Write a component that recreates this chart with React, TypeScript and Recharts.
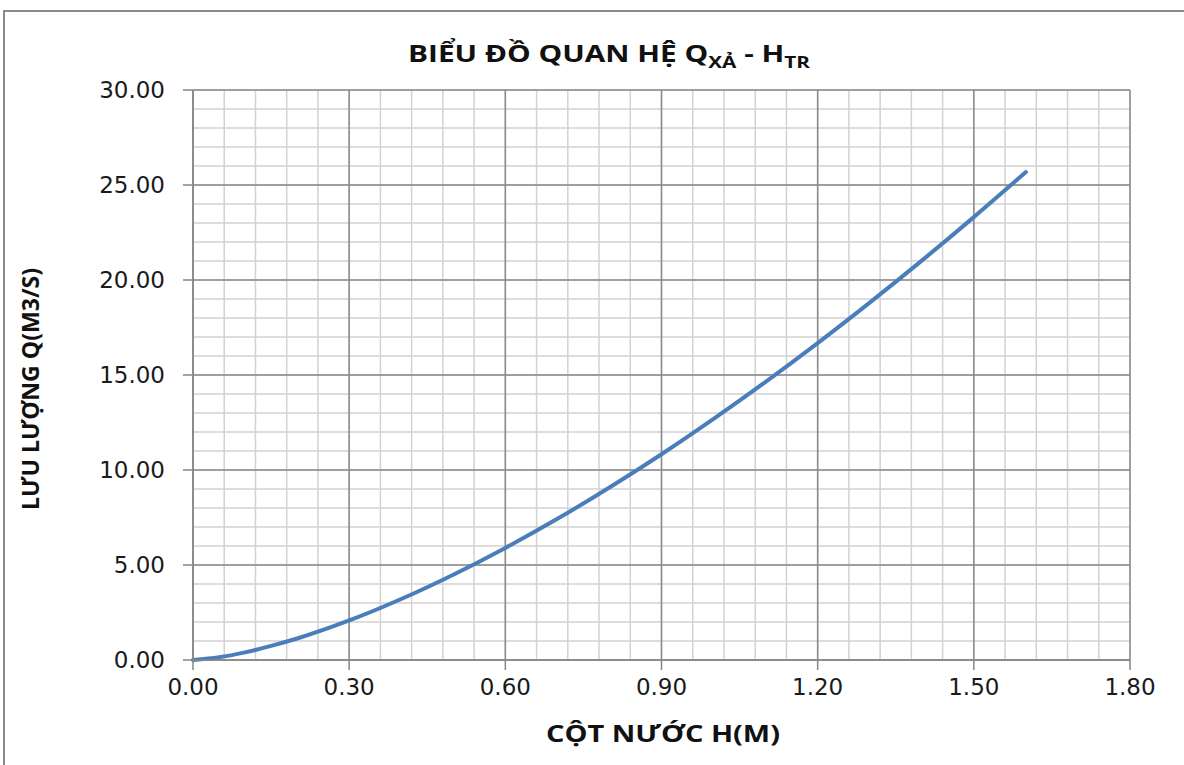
import React from 'react';
import { LineChart, Line, XAxis, YAxis, CartesianGrid } from 'recharts';

// cột nước H (m) và lưu lượng Q (m3/s)
const heads = [0, 0.05, 0.1, 0.15, 0.2, 0.3, 0.4, 0.5, 0.6, 0.7, 0.8, 0.9, 1.0, 1.1, 1.2, 1.3, 1.4, 1.5, 1.6];
const flows = [0, 0.14, 0.4, 0.74, 1.13, 2.08, 3.21, 4.49, 5.9, 7.43, 9.08, 10.83, 12.69, 14.64, 16.68, 18.81, 21.02, 23.31, 25.68];

const xTicks = [0, 0.3, 0.6, 0.9, 1.2, 1.5, 1.8];
const yTicks = [0, 5, 10, 15, 20, 25, 30];

const data = heads.map((h, i) => ({ h, q: flows[i] }));

// lưới phụ: 5 ô giữa hai vạch chính
const xMinor: number[] = [];
for (let i = 0; i <= 30; i++) xMinor.push(+(i * 0.06).toFixed(2));
const yMinor: number[] = [];
for (let i = 0; i <= 30; i++) yMinor.push(i);

const W = 1184;
const H = 765;
const tickFont = { fontFamily: 'DejaVu Sans', fontSize: 23, fill: '#1a1a1a' };
const boldFont = 'Open Sans';

const scaleOf = (axis: any) => {
  const s = axis && axis.scale;
  if (!s) return null;
  if (typeof s === 'function') return s;
  if (typeof s.map === 'function') return (v: number) => s.map(v);
  return null;
};

const minorH = ({ yAxis }: any) => {
  const s = scaleOf(yAxis);
  return s ? yMinor.map((v) => s(v)) : [];
};
const minorV = ({ xAxis }: any) => {
  const s = scaleOf(xAxis);
  return s ? xMinor.map((v) => s(v)) : [];
};

export default function App() {
  return (
    <div style={{ position: 'absolute', left: 0, top: 0, width: W, height: H, overflow: 'hidden', background: '#fff' }}>
      <div
        style={{
          position: 'absolute',
          left: 3,
          top: 10,
          width: W + 40,
          height: H + 40,
          borderTop: '2px solid #8a8a8a',
          borderLeft: '2px solid #8a8a8a',
        }}
      />
      <div style={{ position: 'absolute', left: 0, top: 0 }}>
        <LineChart width={W} height={H} data={data} margin={{ top: 90, right: 54, bottom: 65, left: 103 }}>
          <CartesianGrid
            stroke="#d2d2d2"
            strokeWidth={1.5}
            horizontalCoordinatesGenerator={minorH}
            verticalCoordinatesGenerator={minorV}
          />
          <CartesianGrid stroke="#8a8a8a" strokeWidth={1.5} />
          <XAxis
            type="number"
            dataKey="h"
            domain={[0, 1.8]}
            ticks={xTicks}
            tickFormatter={(v: number) => v.toFixed(2)}
            tick={tickFont}
            tickSize={10}
            tickMargin={9}
            axisLine={{ stroke: '#868686', strokeWidth: 1.5 }}
            tickLine={{ stroke: '#868686', strokeWidth: 1.5 }}
            height={40}
            interval={0}
          />
          <YAxis
            type="number"
            domain={[0, 30]}
            ticks={yTicks}
            tickFormatter={(v: number) => v.toFixed(2)}
            tick={tickFont}
            tickSize={10}
            tickMargin={18}
            axisLine={{ stroke: '#868686', strokeWidth: 1.5 }}
            tickLine={{ stroke: '#868686', strokeWidth: 1.5 }}
            width={90}
            interval={0}
          />
          <Line
            type="monotone"
            dataKey="q"
            stroke="#4a7ebb"
            strokeWidth={4}
            strokeLinecap="round"
            dot={false}
            isAnimationActive={false}
          />
        </LineChart>
      </div>
      <svg width={W} height={H} style={{ position: 'absolute', left: 0, top: 0, pointerEvents: 'none' }}>
        <text
          x={408}
          y={62}
          textLength={402}
          lengthAdjust="spacingAndGlyphs"
          fontFamily={boldFont}
          fontWeight="bold"
          fontSize={23}
          fill="#111"
        >
          BIỂU ĐỒ QUAN HỆ Q
          <tspan fontSize={16} dy={6}>XẢ</tspan>
          <tspan dy={-6}> - H</tspan>
          <tspan fontSize={16} dy={6}>TR</tspan>
        </text>
        <text
          x={0}
          y={0}
          transform="translate(39, 389) rotate(-90)"
          textAnchor="middle"
          textLength={242}
          lengthAdjust="spacingAndGlyphs"
          fontFamily={boldFont}
          fontWeight="bold"
          fontSize={24}
          fill="#111"
        >
          LƯU LƯỢNG Q(M3/S)
        </text>
        <text
          x={663}
          y={742}
          textAnchor="middle"
          textLength={234}
          lengthAdjust="spacingAndGlyphs"
          fontFamily={boldFont}
          fontWeight="bold"
          fontSize={24}
          fill="#111"
        >
          CỘT NƯỚC H(M)
        </text>
      </svg>
    </div>
  );
}
